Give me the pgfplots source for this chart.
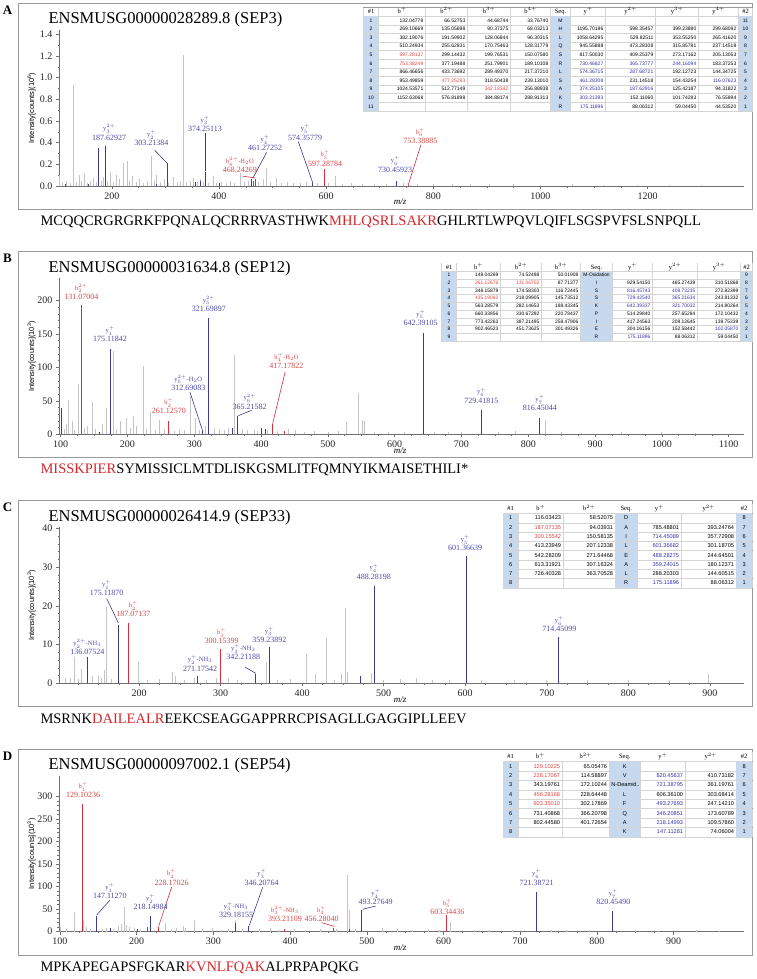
\documentclass[border=0pt]{standalone}
\usepackage[table]{xcolor}
\usepackage{pgfplots}
\pgfplotsset{compat=1.18}
\usepackage{array}
\usepackage{fontspec}
\setmainfont{Liberation Serif}
\setsansfont{Liberation Sans}

\definecolor{pkblue}{HTML}{3B3B8F}
\definecolor{pkred}{HTML}{D42E3F}
\definecolor{lbblue}{HTML}{4A4AA8}
\definecolor{lbred}{HTML}{D84545}
\definecolor{pkgrey}{HTML}{C4C4C4}
\definecolor{seqred}{HTML}{D7262A}
\definecolor{tshade}{HTML}{C6D9EE}
\definecolor{tgrid}{HTML}{D4D4D4}
\definecolor{tred}{HTML}{E0403F}
\definecolor{tblu}{HTML}{3030A8}
\definecolor{axgrey}{HTML}{707070}
\definecolor{framegrey}{HTML}{9A9A9A}

\newcolumntype{R}[1]{>{\raggedleft\arraybackslash}p{\dimexpr #1pt-4.4pt\relax}}
\newcolumntype{S}[1]{>{\columncolor{tshade}\centering\arraybackslash}p{\dimexpr #1pt-4.4pt\relax}}
\newcommand{\h}[1]{\centering\arraybackslash\rmfamily\fontsize{6.5}{7}\selectfont #1}
\newcommand{\RR}[1]{\textcolor{tred}{#1}}
\newcommand{\BB}[1]{\textcolor{tblu}{#1}}
\newcommand{\ionf}{\fontsize{6.5}{7}\selectfont}
\newcommand{\lab}[5]{\node[lb,text=#1] at (axis cs:#2,#3) {{\ionf #4}\\#5};}

\pgfplotsset{
 spec/.style={
  scale only axis, width=685pt, height=156pt, anchor=south west,
  axis x line*=bottom, axis y line*=left,
  axis line style={-, draw=axgrey, line width=0.6pt},
  every tick/.style={draw=axgrey, line width=0.5pt},
  tick align=outside, major tick length=3pt, minor tick length=1.5pt,
  minor x tick num=3,
  ymin=0, clip=false,
  ticklabel style={font=\fontsize{10}{12}\selectfont, text=black!85},
  scaled ticks=false,
  /pgf/number format/assume math mode=true,
  /pgf/number format/1000 sep={},
  ylabel style={font=\sffamily\fontsize{7.5}{9}\selectfont, at={(axis description cs:-0.04,0.5)}, anchor=center},
 },
 gk/.style={ycomb, no markers, line width=0.7pt, color=pkgrey},
 bk/.style={ycomb, no markers, line width=0.9pt, color=pkblue},
 rk/.style={ycomb, no markers, line width=0.9pt, color=pkred},
 bc/.style={no markers, line width=0.6pt, color=pkblue},
 rc/.style={no markers, line width=0.6pt, color=pkred},
}
\tikzset{lb/.style={align=center, inner sep=0pt, anchor=south, font=\fontsize{8}{9.3}\selectfont}}

\begin{document}
\begin{tikzpicture}
\useasboundingbox (0,0) rectangle (756pt,-979pt);

% ================= Panel A =================
\draw[framegrey, line width=1pt] (18pt,-3.3pt) rectangle (752pt,-209.3pt);
\node[anchor=center, font=\bfseries\fontsize{13}{15}\selectfont] at (7.5pt,-10.3pt) {A};
\node[anchor=west, font=\fontsize{16.5}{19}\selectfont] at (45pt,-19.8pt) {ENSMUSG00000028289.8 (SEP3)};
\begin{axis}[spec, at={(59pt,-186pt)}, xmin=101.4, xmax=1380, ymax=1.439,
  xtick={200,400,600,800,1000,1200}, ytick={0,0.2,0.4,0.6,0.8,1.0,1.2,1.4}, minor y tick num=1,
  yticklabel style={/pgf/number format/.cd, fixed, fixed zerofill, precision=1},
  ylabel={Intensity[counts](10\textsuperscript{6})}]
\addplot[gk] coordinates {(102.7,0.10)(108,0.04)(115,0.05)(122,0.03)(129,0.93)(134,0.04)(140,0.10)(144,0.05)(149.5,0.12)(155,0.03)(160,0.05)(166,0.07)(171,0.04)(181,0.05)(184,0.08)(192,0.05)(197.5,0.13)(203,0.04)(208.7,0.10)(214,0.06)(221,0.21)(228.6,0.23)(233,0.05)(238.6,0.09)(245,0.04)(252,0.06)(258,0.03)(266,0.05)(274,0.28)(279,0.05)(283.5,0.10)(290,0.04)(298,0.06)(306,0.03)(314.6,0.08)(322,0.04)(328,0.05)(333,1.21)(340,0.04)(346,0.05)(352,0.07)(360,0.04)(364.5,0.06)(370,0.04)(380,0.03)(389.4,0.09)(396,0.03)(405,0.04)(413,0.03)(420.6,0.05)(428,0.03)(439,0.12)(447,0.04)(455,0.05)(474,0.04)(482,0.06)(489,0.17)(496,0.04)(508,0.07)(516,0.03)(527,0.04)(538,0.03)(552,0.03)(563,0.04)(583,0.03)(605,0.03)(617,0.09)(630,0.02)(648,0.03)(668,0.02)(690,0.02)(712,0.02)(745,0.03)(770,0.02)(800,0.015)(835,0.02)(870,0.015)(905,0.02)(950,0.015)(1000,0.01)(1060,0.015)(1120,0.01)(1180,0.012)(1240,0.01)(1300,0.008)};
\addplot[bk] coordinates {(113,0.02)(157,0.02)(175.12,0.35)(187.63,0.37)(283,0.02)(303.21,0.21)(357,0.04)(366,0.05)(374.25,0.13)(400,0.03)(461.27,0.06)(574.36,0.03)(730.46,0.05)};
\addplot[rk] coordinates {(465,0.05)(468.24,0.065)(597.29,0.16)(753.39,0.012)};
\addplot[bc] coordinates {(280,0.33)(303.2,0.21)};
\addplot[bc] coordinates {(374.25,0.49)(374.25,0.14)};
\addplot[bc] coordinates {(489,0.31)(463,0.07)};
\addplot[rc] coordinates {(445,0.09)(467,0.075)};
\addplot[bc] coordinates {(548,0.41)(575,0.03)};
\addplot[rc] coordinates {(777,0.38)(753.4,0.012)};
\lab{lbblue}{195}{0.42}{y$_{3}^{2+}$}{187.62927}
\lab{lbblue}{274}{0.37}{y$_{2}^{+}$}{303.21384}
\lab{lbblue}{374}{0.50}{y$_{3}^{+}$}{374.25113}
\lab{lbblue}{486}{0.32}{y$_{4}^{+}$}{461.27252}
\lab{lbred}{439}{0.12}{b$_{8}^{2+}$-H$_2$O}{468.24269}
\lab{lbblue}{561}{0.42}{y$_{5}^{+}$}{574.35779}
\lab{lbred}{598}{0.18}{b$_{5}^{+}$}{597.28784}
\lab{lbblue}{729}{0.125}{y$_{6}^{+}$}{730.45923}
\lab{lbred}{776}{0.39}{b$_{6}^{+}$}{753.38885}
\end{axis}
\node[font=\itshape\fontsize{9}{10}\selectfont] at (400pt,-201.7pt) {m/z};
\node[anchor=west, font=\fontsize{14.5}{16}\selectfont] at (37pt,-221.8pt) {MCQQCRGRGRKFPQNALQCRRRVASTHWK\textcolor{seqred}{MHLQSRLSAKR}GHLRTLWPQVLQIFLSGSPVFSLSNPQLL};
\node[anchor=north west, inner sep=0pt, draw=framegrey, line width=0.6pt] at (363pt,-7.3pt) {%
\sffamily\fontsize{5}{8.2}\selectfont\setlength{\tabcolsep}{2pt}\arrayrulecolor{tgrid}%
\begin{tabular}{|S{15}|R{47}|R{42}|R{43}|R{40}|S{20}|R{35}|R{50}|R{43}|R{40}|S{14}|}
\rowcolor{white}\h{\#1}&\h{b$^{+}$}&\h{b$^{2+}$}&\h{b$^{3+}$}&\h{b$^{4+}$}&\h{Seq.}&\h{y$^{+}$}&\h{y$^{2+}$}&\h{y$^{3+}$}&\h{y$^{4+}$}&\h{\#2}\\\hline
1&132.04778&66.52753&44.68744&33.76740&M&&&&&11\\\hline
2&269.10669&135.05698&90.37375&68.03213&H&1195.70186&598.35457&399.23880&299.68092&10\\\hline
3&382.19076&191.59902&128.06844&96.30315&L&1058.64295&529.82511&353.55250&265.41620&9\\\hline
4&510.24934&255.62831&170.75463&128.31779&Q&945.55888&473.28308&315.85781&237.14518&8\\\hline
5&\RR{597.28137}&299.14432&199.76531&150.07580&S&817.50030&409.25379&273.17162&205.13053&7\\\hline
6&\RR{753.38249}&377.19488&251.79901&189.10108&R&\BB{730.46827}&\BB{365.73777}&\BB{244.16094}&183.37253&6\\\hline
7&866.46656&433.73692&289.49370&217.37210&L&\BB{574.36715}&\BB{287.68721}&192.12723&144.34725&5\\\hline
8&953.49859&\RR{477.25293}&318.50438&239.13010&S&\BB{461.28308}&231.14518&154.43254&\BB{116.07623}&4\\\hline
9&1024.53571&512.77149&\RR{342.18342}&256.88938&A&\BB{374.25105}&\BB{187.62916}&125.42187&94.31822&3\\\hline
10&1152.63068&576.81898&384.88174&288.91313&K&\BB{303.21393}&152.11060&101.74283&76.55894&2\\\hline
11&&&&&R&\BB{175.11896}&88.06312&59.04450&44.53520&1\\\hline
\end{tabular}};

% ================= Panel B =================
\draw[framegrey, line width=1pt] (18pt,-251.7pt) rectangle (752pt,-457.7pt);
\node[anchor=center, font=\bfseries\fontsize{13}{15}\selectfont] at (7.5pt,-258.7pt) {B};
\node[anchor=west, font=\fontsize{16.5}{19}\selectfont] at (45pt,-268.2pt) {ENSMUSG00000031634.8 (SEP12)};
\begin{axis}[spec, at={(59pt,-434.4pt)}, xmin=97.5, xmax=1123, ymax=232.8,
  xtick={100,200,...,1100}, ytick={0,50,100,150,200}, minor y tick num=4,
  ylabel={Intensity[counts](10\textsuperscript{3})}]
\addplot[gk] coordinates {(105,8)(108,15)(112,52)(117,20)(121,6)(127,75)(135,10)(140,12)(147,48)(152,8)(163,15)(169,40)(179,125)(184,8)(190,20)(198,25)(204,10)(209,27)(214,12)(224,102)(229,8)(234,33)(241,6)(248,22)(255,8)(270,5)(277,8)(285,6)(294,58)(301,25)(308,6)(316,12)(330,10)(338,8)(345,6)(351,10)(360,119)(372,8)(380,6)(390,7)(395,5)(410,6)(425,5)(441,8)(452,6)(465,4)(480,5)(500,4)(515,5)(528,18)(546,62)(551,22)(554,20)(570,4)(590,3)(615,4)(660,3)(680,3)(700,3)(755,4)(780,5)(826,22)(850,3)(880,2)(940,3)(1000,3)(1050,2)};
\addplot[bk] coordinates {(101,40)(158,4)(175.12,128)(312.69,5)(321.70,174)(357,10)(365.22,27)(400,10)(406,8)(642.39,152)(729.42,37)(816.45,25)};
\addplot[rk] coordinates {(131.07,192.5)(261.13,20)(417.18,15)(435.19,5)};
\addplot[bc] coordinates {(293.6,63)(312.6,5)};
\addplot[bc] coordinates {(386,36)(366,28)};
\addplot[rc] coordinates {(436,93)(417.3,16)};
\lab{lbred}{131}{201}{b$_{2}^{2+}$}{131.07004}
\lab{lbblue}{174}{138}{y$_{1}^{+}$}{175.11842}
\lab{lbblue}{322}{183}{y$_{5}^{2+}$}{321.69897}
\lab{lbblue}{291}{65}{y$_{5}^{2+}$-H$_2$O}{312.69083}
\lab{lbred}{262}{30}{b$_{2}^{+}$}{261.12570}
\lab{lbblue}{383}{37}{y$_{6}^{2+}$}{365.21582}
\lab{lbred}{438}{98}{b$_{4}^{+}$-H$_2$O}{417.17822}
\lab{lbblue}{639}{162}{y$_{5}^{+}$}{642.39105}
\lab{lbblue}{730}{46}{y$_{6}^{+}$}{729.41815}
\lab{lbblue}{817.5}{35}{y$_{7}^{+}$}{816.45044}
\end{axis}
\node[font=\itshape\fontsize{9}{10}\selectfont] at (400pt,-450.1pt) {m/z};
\node[anchor=west, font=\fontsize{14.5}{16}\selectfont] at (37pt,-470.2pt) {\textcolor{seqred}{MISSKPIER}SYMISSICLMTDLISKGSMLITFQMNYIKMAISETHILI*};
\node[anchor=north west, inner sep=0pt, draw=framegrey, line width=0.6pt] at (441pt,-263pt) {%
\sffamily\fontsize{4.9}{7.3}\selectfont\setlength{\tabcolsep}{2pt}\arrayrulecolor{tgrid}%
\begin{tabular}{|S{15}|R{44}|R{41}|R{39}|S{32}|R{40}|R{45}|R{43}|S{12}|}
\rowcolor{white}\h{\#1}&\h{b$^{+}$}&\h{b$^{2+}$}&\h{b$^{3+}$}&\h{Seq.}&\h{y$^{+}$}&\h{y$^{2+}$}&\h{y$^{3+}$}&\h{\#2}\\\hline
1&148.04269&74.52498&50.01908&M-Oxidation&&&&9\\\hline
2&\RR{261.12676}&\RR{131.06702}&87.71377&I&929.54150&465.27439&310.51868&8\\\hline
3&348.15879&174.58303&116.72445&S&\BB{816.45743}&\BB{408.73235}&272.82399&7\\\hline
4&\RR{435.19082}&218.09905&145.73512&S&\BB{729.42540}&\BB{365.21634}&243.81332&6\\\hline
5&563.28579&282.14653&188.43345&K&\BB{642.39337}&\BB{321.70032}&214.80264&5\\\hline
6&660.33856&330.67292&220.78437&P&514.29840&257.65284&172.10432&4\\\hline
7&773.42263&387.21495&258.47906&I&417.24563&209.12645&139.75339&3\\\hline
8&902.46523&451.73625&301.49326&E&304.16156&152.58442&\BB{102.05870}&2\\\hline
9&&&&R&\BB{175.11896}&88.06312&59.04450&1\\\hline
\end{tabular}};

% ================= Panel C =================
\draw[framegrey, line width=1pt] (18pt,-500.7pt) rectangle (752pt,-706.7pt);
\node[anchor=center, font=\bfseries\fontsize{13}{15}\selectfont] at (7.5pt,-507.7pt) {C};
\node[anchor=west, font=\fontsize{16.5}{19}\selectfont] at (45pt,-517.2pt) {ENSMUSG00000026414.9 (SEP33)};
\begin{axis}[spec, at={(59pt,-683.4pt)}, xmin=101.6, xmax=942, ymax=40.26,
  xtick={100,200,...,900}, ytick={0,10,20,30,40}, minor y tick num=4,
  ylabel={Intensity[counts](10\textsuperscript{3})}]
\addplot[gk] coordinates {(110,1.5)(115,1.4)(120,6.7)(125,1.2)(129.6,3.6)(142,2)(149.6,2)(154,1.5)(157.8,3.5)(160,19.8)(166,1.2)(198.7,5.6)(210,1)(225,1.2)(240.4,3)(244,2)(255,1)(268,1.5)(282,1)(295,1.5)(309,1.5)(320,1)(355.4,5.6)(370,1)(385,1.2)(405.5,7.5)(416.6,2.3)(430,11.8)(440,1)(448.5,2.5)(452.6,19.4)(455,3)(485,2.8)(500,1)(520,1.2)(540,1.5)(560,1)(580,1)(620,1)(660,0.8)(700,1)(750,0.8)(800,0.8)(850,0.8)(898,2.5)};
\addplot[bk] coordinates {(136.08,3.6)(175.12,15)(271.18,1.9)(342.21,2.4)(359.24,9.4)(471,2)(488.28,25.1)(601.37,33)(714.45,12)};
\addplot[rk] coordinates {(187.07,15.5)(300.15,8.9)};
\addplot[bc] coordinates {(136.1,6.9)(136.1,3.6)};
\addplot[bc] coordinates {(160.1,21.9)(174.4,15.6)};
\addplot[bc] coordinates {(330,4.2)(343,2.6)};
\lab{lbblue}{136.3}{7.3}{y$_{2}^{2+}$-NH$_3$}{136.07524}
\lab{lbblue}{160}{22.5}{y$_{1}^{+}$}{175.11870}
\lab{lbred}{192.8}{17.1}{b$_{2}^{+}$}{187.07137}
\lab{lbblue}{274.6}{3.1}{y$_{2}^{+}$-NH$_3$}{271.17542}
\lab{lbred}{301}{10.1}{b$_{3}^{+}$}{300.15399}
\lab{lbblue}{327.7}{6.0}{y$_{3}^{+}$-NH$_3$}{342.21188}
\lab{lbblue}{359.7}{10.5}{y$_{3}^{+}$}{359.23892}
\lab{lbblue}{488}{26.8}{y$_{4}^{+}$}{488.28198}
\lab{lbblue}{600}{34.1}{y$_{5}^{+}$}{601.36639}
\lab{lbblue}{715.5}{13.3}{y$_{6}^{+}$}{714.45099}
\end{axis}
\node[font=\itshape\fontsize{9}{10}\selectfont] at (400pt,-699.1pt) {m/z};
\node[anchor=west, font=\fontsize{14.5}{16}\selectfont] at (37pt,-719.2pt) {MSRNK\textcolor{seqred}{DAILEALR}EEKCSEAGGAPPRRCPISAGLLGAGGIPLLEEV};
\node[anchor=north west, inner sep=0pt, draw=framegrey, line width=0.6pt] at (502.7pt,-504pt) {%
\sffamily\fontsize{5.6}{8.9}\selectfont\setlength{\tabcolsep}{2pt}\arrayrulecolor{tgrid}%
\begin{tabular}{|S{15}|R{45}|R{52}|S{22}|R{44}|R{55}|S{16}|}
\rowcolor{white}\h{\#1}&\h{b$^{+}$}&\h{b$^{2+}$}&\h{Seq.}&\h{y$^{+}$}&\h{y$^{2+}$}&\h{\#2}\\\hline
1&116.03423&58.52075&D&&&8\\\hline
2&\RR{187.07135}&94.03931&A&785.48801&393.24764&7\\\hline
3&\RR{300.15542}&150.58135&I&\BB{714.45089}&357.72908&6\\\hline
4&413.23949&207.12338&L&\BB{601.36682}&301.18705&5\\\hline
5&542.28209&271.64468&E&\BB{488.28275}&244.64501&4\\\hline
6&613.31921&307.16324&A&\BB{359.24015}&180.12371&3\\\hline
7&726.40328&363.70528&L&288.20303&144.60515&2\\\hline
8&&&R&\BB{175.11896}&88.06312&1\\\hline
\end{tabular}};

% ================= Panel D =================
\draw[framegrey, line width=1pt] (18pt,-749pt) rectangle (752pt,-955pt);
\node[anchor=center, font=\bfseries\fontsize{13}{15}\selectfont] at (7.5pt,-756pt) {D};
\node[anchor=west, font=\fontsize{16.5}{19}\selectfont] at (45pt,-765.5pt) {ENSMUSG00000097002.1 (SEP54)};
\begin{axis}[spec, at={(59pt,-931.7pt)}, xmin=98.7, xmax=991.8, ymax=346.7,
  xtick={100,200,...,900}, ytick={0,50,100,150,200,250,300}, minor y tick num=4,
  ylabel={Intensity[counts](10\textsuperscript{3})}]
\addplot[gk] coordinates {(100.5,11)(108,6)(119,44)(131,26)(135,10)(140,6)(155,5)(161,8)(170,6)(176.6,12)(179.6,18)(184,55)(187,15)(190,10)(197,8)(205,6)(237.4,20)(245,5)(252,8)(261,12)(263,8)(274.6,26)(285,5)(298,8)(310,4)(320,5)(328,25)(338,6)(360,5)(374.6,8)(385,4)(405,5)(420,4)(440,6)(460.9,5)(475,126)(476.8,48)(485,5)(520,8)(540,5)(560,4)(580,6)(595,4)(609,22)(640,4)(660,3)(690,4)(740,3)(760,4)(790,3)(850,3)(880,2)(930,3)(960,2)};
\addplot[bk] coordinates {(147.11,35)(165.7,8)(201.6,5)(218.15,35)(329.18,20)(346.21,13)(478,5)(493.28,48)(721.39,89)(820.45,46)};
\addplot[rk] coordinates {(129.10,284)(213.5,10)(228.17,11)(393.21,7)(456.28,9)(603.34,37)};
\addplot[bc] coordinates {(165,70)(147.8,37)};
\addplot[rc] coordinates {(245.6,99)(228.6,12)};
\addplot[bc] coordinates {(364.3,99)(346.8,14)};
\addplot[rc] coordinates {(441,20)(457.6,12)};
\addplot[bc] coordinates {(511.6,57)(494.6,50)};
\lab{lbred}{130}{297}{b$_{1}^{+}$}{129.10236}
\lab{lbblue}{165}{73}{y$_{1}^{+}$}{147.11270}
\lab{lbblue}{218}{48}{y$_{2}^{+}$}{218.14984}
\lab{lbred}{245.6}{103}{b$_{2}^{+}$}{228.17026}
\lab{lbblue}{329.5}{31}{y$_{3}^{+}$-NH$_3$}{329.18155}
\lab{lbblue}{363}{103}{y$_{3}^{+}$}{346.20764}
\lab{lbred}{393.3}{22}{b$_{3}^{2+}$-NH$_3$}{393.21109}
\lab{lbred}{441}{22}{b$_{4}^{+}$}{456.28040}
\lab{lbblue}{511.6}{59}{y$_{4}^{+}$}{493.27649}
\lab{lbred}{605}{38}{b$_{5}^{+}$}{603.34436}
\lab{lbblue}{721.5}{103}{y$_{6}^{+}$}{721.38721}
\lab{lbblue}{821.4}{59}{y$_{7}^{+}$}{820.45490}
\end{axis}
\node[font=\itshape\fontsize{9}{10}\selectfont] at (400pt,-947.4pt) {m/z};
\node[anchor=west, font=\fontsize{14.5}{16}\selectfont] at (37pt,-967.5pt) {MPKAPEGAPSFGKAR\textcolor{seqred}{KVNLFQAK}ALPRPAPQKG};
\node[anchor=north west, inner sep=0pt, draw=framegrey, line width=0.6pt] at (502.7pt,-752pt) {%
\sffamily\fontsize{5.6}{9.0}\selectfont\setlength{\tabcolsep}{2pt}\arrayrulecolor{tgrid}%
\begin{tabular}{|S{15}|R{44}|R{47}|S{31}|R{45}|R{51}|S{16}|}
\rowcolor{white}\h{\#1}&\h{b$^{+}$}&\h{b$^{2+}$}&\h{Seq.}&\h{y$^{+}$}&\h{y$^{2+}$}&\h{\#2}\\\hline
1&\RR{129.10225}&65.05476&K&&&8\\\hline
2&\RR{228.17067}&114.58897&V&\BB{820.45637}&410.73182&7\\\hline
3&343.19761&172.10244&\mbox{N-Deamid...}&\BB{721.38795}&361.19761&6\\\hline
4&\RR{456.28168}&228.64448&L&606.36100&303.68414&5\\\hline
5&\RR{603.35010}&302.17869&F&\BB{493.27693}&247.14210&4\\\hline
6&731.40868&366.20798&Q&\BB{346.20851}&173.60789&3\\\hline
7&802.44580&401.72654&A&\BB{218.14993}&109.57860&2\\\hline
8&&&K&\BB{147.11281}&74.06004&1\\\hline
\end{tabular}};
\end{tikzpicture}
\end{document}
